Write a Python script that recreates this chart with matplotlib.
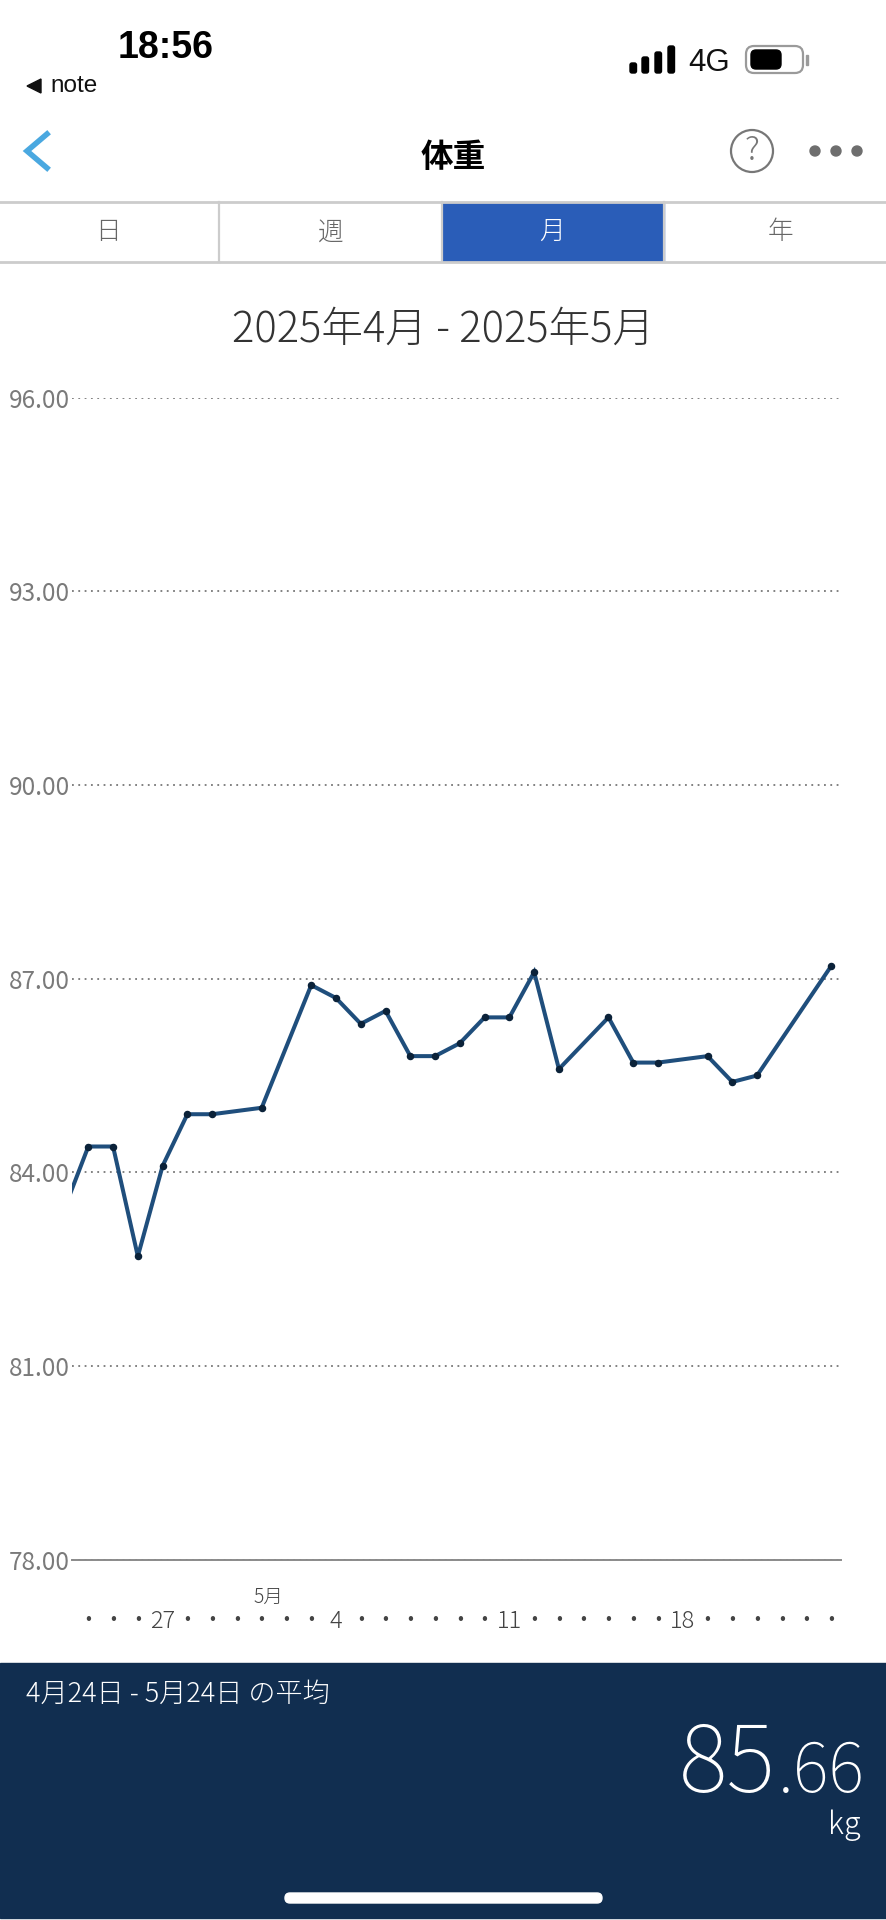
import matplotlib
matplotlib.use("Agg")
import matplotlib.pyplot as plt
from matplotlib.patches import Rectangle, FancyBboxPatch, Circle, Polygon

plt.rcParams['font.family'] = ['Noto Sans CJK JP', 'DejaVu Sans']

# weight readings, day number counted from Apr 24 (May 1 = 7)
days = [-1, 0, 1, 2, 3, 4, 5, 7, 9, 10, 11, 12, 13, 14, 15, 16, 17, 18, 19, 21, 22, 23, 25, 26, 27, 30]
weights = [83.4, 84.4, 84.4, 82.7, 84.1, 84.9, 84.9, 85.0, 86.9, 86.7, 86.3, 86.5, 85.8,
           85.8, 86.0, 86.4, 86.4, 87.1, 85.6, 86.4, 85.7, 85.7, 85.8, 85.4, 85.5, 87.2]

y_ticks = [78, 81, 84, 87, 90, 93, 96]
x_ticks = list(range(0, 31))
x_labels = {3: "27", 10: "4", 17: "11", 24: "18"}
tabs = ["日", "週", "月", "年"]

W, H = 886, 1920
fig = plt.figure(figsize=(W / 100, H / 100), dpi=100)

# screen chrome is drawn in a pixel-sized axes
bg = fig.add_axes([0, 0, 1, 1])
bg.set_xlim(0, W)
bg.set_ylim(H, 0)
bg.axis("off")

# status bar
bg.text(166, 48, "18:56", family="Liberation Sans", weight="bold", fontsize=27, ha="center", va="center", color="black")
bg.add_patch(Polygon([[41, 79], [41, 93], [27, 86]], color="#111111"))
bg.text(50, 86, "note", family="Liberation Sans", fontsize=17.5, va="center", color="#111111")
for x, top in zip([630, 642, 655, 668], [63, 57, 52, 46]):
    bg.add_patch(FancyBboxPatch((x, top), 6.5, 73 - top, boxstyle="round,pad=0,rounding_size=2", color="black"))
bg.text(688, 63, "4G", family="Liberation Sans", fontsize=22.5, va="center", color="#111111")
bg.add_patch(FancyBboxPatch((746, 46), 57, 27, boxstyle="round,pad=0,rounding_size=8", fc="white", ec="#9a9a9a", lw=1.6))
bg.add_patch(FancyBboxPatch((751, 50), 30, 19, boxstyle="round,pad=0,rounding_size=5", color="black"))
bg.add_patch(Rectangle((806, 55), 2, 10, color="#9a9a9a"))

# nav bar
bg.plot([47, 27, 47], [134, 151, 168], color="#4aa8e0", lw=4, solid_joinstyle="miter")
bg.text(453, 158, "体重", weight="bold", fontsize=23.5, ha="center", va="center", color="black")
bg.add_patch(Circle((752, 151), 21, fc="none", ec="#777777", lw=1.6))
bg.text(752, 151, "?", weight=300, fontsize=24, ha="center", va="center", color="#777777")
for x in [815, 836, 857]:
    bg.add_patch(Circle((x, 151), 5, color="#6e6e6e"))

# tabs
bg.add_patch(Rectangle((442, 203), 222, 58, color="#2a5db8"))
bg.plot([0, W], [202, 202], color="#cccccc", lw=2)
bg.plot([0, W], [262, 262], color="#cccccc", lw=2)
for x in [219, 442, 664]:
    bg.plot([x, x], [202, 262], color="#cccccc", lw=1.6)
for x, t in zip([108, 331, 552, 781], tabs):
    bg.text(x, 232, t, fontsize=18.5, weight=300, ha="center", va="center",
            color="white" if t == "月" else "#666666")

bg.text(443, 330, "2025年4月 - 2025年5月", fontsize=30, weight=300, ha="center", va="center", color="#333333")

# bottom panel
bg.add_patch(Rectangle((0, 1663), W, 255, color="#112e50"))
bg.text(26, 1694, "4月24日 - 5月24日 の平均", fontsize=19.5, weight=300, va="center", color="white")
bg.text(865, 1792, ".66", fontsize=49, weight=100, ha="right", va="baseline", color="white")
bg.text(776, 1792, "85", fontsize=67, weight=100, ha="right", va="baseline", color="white")
bg.text(861, 1834, "kg", fontsize=22, weight=300, ha="right", va="baseline", color="white")
bg.add_patch(FancyBboxPatch((285, 1893), 317, 10, boxstyle="round,pad=0,rounding_size=5", color="white"))

# the chart itself
left, right, top, bottom = 72, 841, 397.6, 1559.7
ax = fig.add_axes([left / W, 1 - bottom / H, (right - left) / W, (bottom - top) / H])
ax.patch.set_alpha(0)
ax.plot(days, weights, color="#1f4e7c", lw=2.9, marker="o", ms=4.4, mfc="#0b2239", mec="#0b2239",
        solid_joinstyle="miter", zorder=3)
ax.set_xlim((left - 88.3) / 24.77, (right - 88.3) / 24.77)
ax.set_ylim(78, 96)

ax.set_yticks(y_ticks)
ax.set_yticklabels([f"{v:.2f}" for v in y_ticks], fontsize=17.5, weight=400, color="#7a7a7a")
ax.set_xticks(x_ticks)
ax.set_xticklabels([x_labels.get(d, "·") for d in x_ticks], fontsize=17, weight=300, color="#444444", va="baseline")
for lab in ax.get_xticklabels():
    if lab.get_text() == "·":
        lab.set_weight("bold")
ax.tick_params(axis="y", length=0, pad=1.5)
ax.tick_params(axis="x", length=0, pad=49)
ax.grid(axis="y", color="#777777", lw=1.3, linestyle=(0, (1, 2.5)))
ax.set_axisbelow(True)
for s in ["top", "left", "right"]:
    ax.spines[s].set_visible(False)
ax.spines["bottom"].set_color("#8a8a8a")
ax.spines["bottom"].set_linewidth(1.4)

ax.annotate("5月", xy=(7, 78), xytext=(5, -27), textcoords="offset points", fontsize=14, weight=300,
            ha="center", va="center", color="#444444", annotation_clip=False)

fig.savefig("out.png", dpi=100)
